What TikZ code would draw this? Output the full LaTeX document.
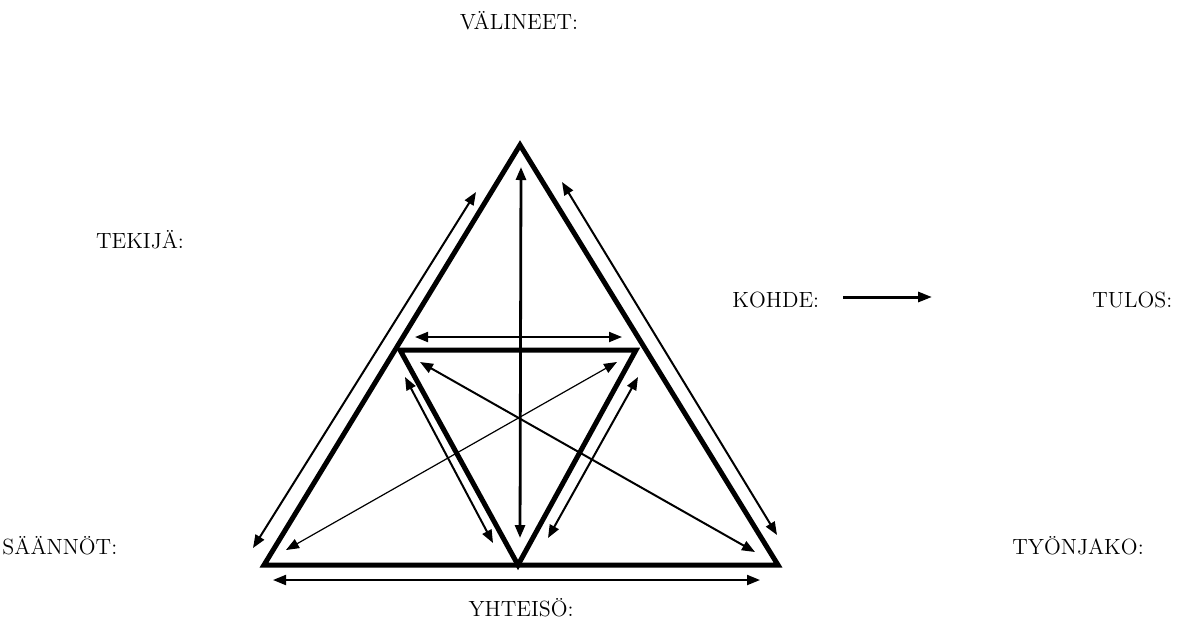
\documentclass[tikz,border=0pt]{standalone}
\usepackage{tikz}
\usetikzlibrary{arrows.meta}
\tikzset{
  edge/.style={line width=2.5pt, line join=miter},
  link/.style={{Triangle[length=6.5pt,width=5pt]}-{Triangle[length=6.5pt,width=5pt]},
               line width=1pt},
  linkthin/.style={link, line width=0.6pt},
  flow/.style={-{Triangle[length=7pt,width=5pt]}, line width=1.5pt},
  lbl/.style={font=\fontsize{11}{13}\selectfont, inner sep=0pt, anchor=base},
}

\begin{document}
\begin{tikzpicture}[x=0.5pt, y=-0.5pt]
\useasboundingbox (0,0) rectangle (1186,622);

% ------------------------- corners --------------------------------------
\coordinate (top)  at (520,145);
\coordinate (bl)   at (264,565);
\coordinate (br)   at (778,565);
\coordinate (itl)  at (400,350);
\coordinate (itr)  at (636,350);
\coordinate (ibot) at (518,565);

\draw[edge] (top) -- (br) -- (bl) -- cycle;
\draw[edge] (itl) -- (itr) -- (ibot) -- cycle;

% ------------------------- arrow ends -----------------------------------
\coordinate (vA) at (521,167);  \coordinate (vB) at (520,538);
\coordinate (hA) at (415,337);  \coordinate (hB) at (622,337);
\coordinate (lA) at (476,192);  \coordinate (lB) at (253,548);
\coordinate (rA) at (562,182);  \coordinate (rB) at (777,535);
\coordinate (bA) at (273,580);  \coordinate (bB) at (760,580);
\coordinate (ilA) at (405,377); \coordinate (ilB) at (493,543);
\coordinate (irA) at (638,377); \coordinate (irB) at (548,538);
\coordinate (d1A) at (617,362); \coordinate (d1B) at (286,550);
\coordinate (d2A) at (420,362); \coordinate (d2B) at (755,552);

\draw[link, line width=1.4pt] (vA) -- (vB);
\foreach \a/\b in {hA/hB, lA/lB, rA/rB, bA/bB, ilA/ilB, irA/irB, d2A/d2B}
  {\draw[link] (\a) -- (\b);}
\draw[linkthin] (d1A) -- (d1B);

% ------------------------- labels ---------------------------------------
\node[lbl] (valineet) at (519,29) {VÄLINEET:};
\node[lbl] (tekija)   at (140,248) {TEKIJÄ:};
\node[lbl, anchor=base west] (kohde) at (732,307) {KOHDE:};
\node[lbl, anchor=base west] (tulos) at (1092,307) {TULOS:};
\node[lbl, anchor=base west] (saannot) at (2,554) {SÄÄNNÖT:};
\node[lbl, anchor=base west] (tyonjako) at (1012,554) {TYÖNJAKO:};
\node[lbl] (yhteiso) at (521,616) {YHTEISÖ:};

\coordinate (kA) at (843,297); \coordinate (kB) at (932,297);
\draw[flow] (kA) -- (kB);
\end{tikzpicture}
\end{document}
